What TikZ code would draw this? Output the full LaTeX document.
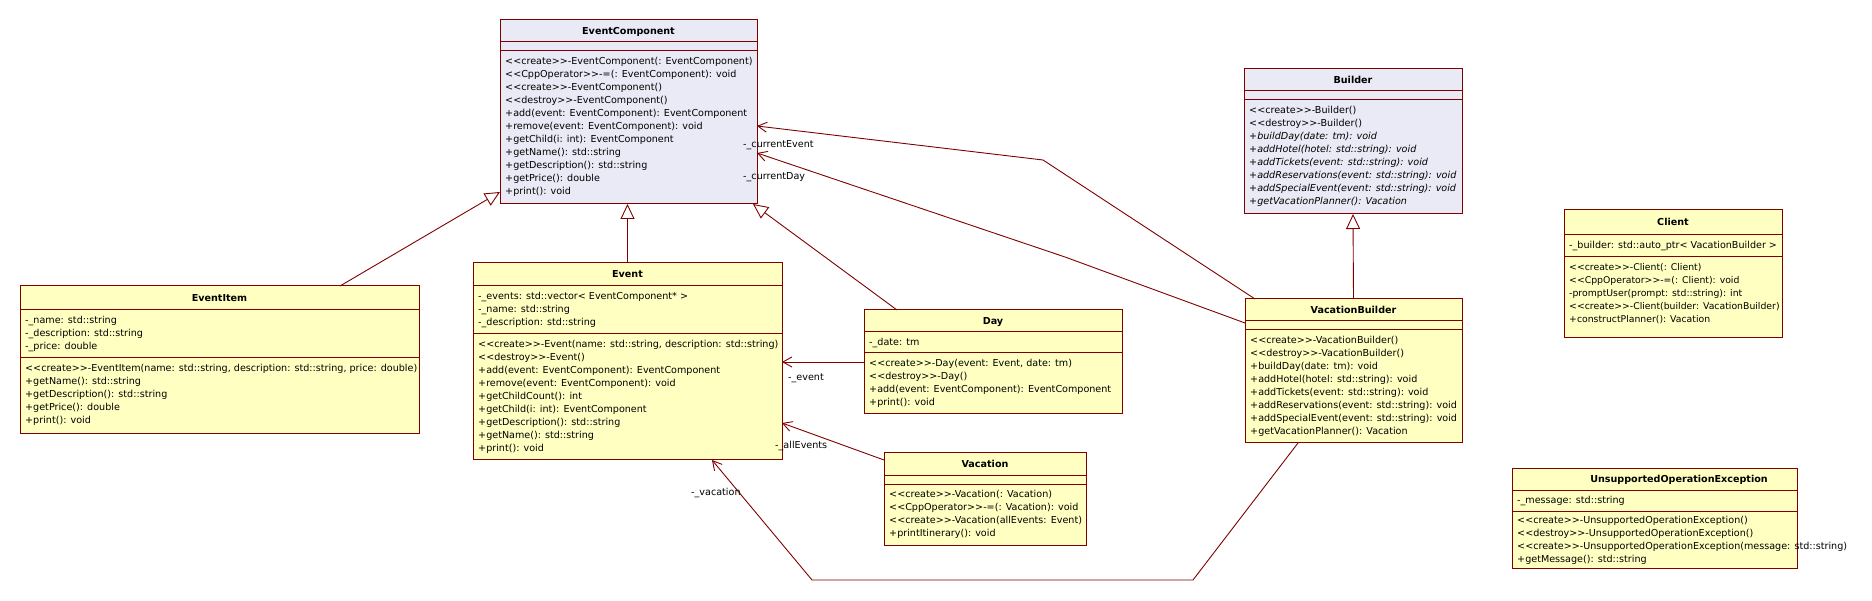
\documentclass[tikz,border=0pt]{standalone}
\usepackage{fontspec}
\setmainfont{DejaVu Sans}
\usetikzlibrary{arrows.meta}
\definecolor{umlred}{RGB}{128,0,0}
\definecolor{umlyellow}{RGB}{255,255,194}
\definecolor{umllav}{RGB}{234,234,246}
\newcommand\ssl{<\kern0pt<}
\newcommand\ssr{>\kern0pt>}
\tikzset{
  clsbox/.style={draw=umlred, line width=1pt, inner sep=0pt, outer sep=0pt},
  clsline/.style={draw=umlred, line width=1pt},
  ttl/.style={font=\fontsize{9.6}{13}\selectfont\bfseries, inner sep=0pt, anchor=base},
  rows/.style={font=\fontsize{9.6}{13}\selectfont, inner sep=0pt, anchor=base west},
  lbl/.style={font=\fontsize{9.6}{13}\selectfont, inner sep=0pt, anchor=base west},
  assoc/.style={draw=umlred, line width=0.9pt, -{Straight Barb[length=9pt,width=10pt]}},
  gen/.style={draw=umlred, line width=0.9pt, -{Triangle[length=15pt,width=14pt,fill=white]}},
}
% name, L, T, R, B, t1, t2, fill
\newcommand\umlbox[8]{%
  \node[clsbox, fill=#8, minimum width={#4pt-#2pt}, minimum height={#5pt-#3pt}, anchor=north west] (#1) at (#2,#3) {};
  \draw[clsline] (#2,#6) -- (#4,#6);
  \draw[clsline] (#2,#7) -- (#4,#7);
}
\newcommand\umlrows[4]{\node[rows] (#1) at (#2,#3) {\begin{tabular}[t]{@{}l@{}}#4\end{tabular}};}
\begin{document}
\begin{tikzpicture}[x=1pt,y=-1pt]
\useasboundingbox[fill=white] (0,0) rectangle (1872,601);

% EventComponent
\umlbox{ec}{500}{20}{757}{204}{42}{51}{umllav}
\node[ttl] (ec-title) at (628.5,34.5) {EventComponent};
\umlrows{ec-ops}{505}{64.5}{%
\ssl create\ssr-EventComponent(: EventComponent)\\
\ssl CppOperator\ssr-=(: EventComponent): void\\
\ssl create\ssr-EventComponent()\\
\ssl destroy\ssr-EventComponent()\\
+add(event: EventComponent): EventComponent\\
+remove(event: EventComponent): void\\
+getChild(i: int): EventComponent\\
+getName(): std::string\\
+getDescription(): std::string\\
+getPrice(): double\\
+print(): void}

% Builder
\umlbox{builder}{1244}{69}{1462}{214}{91}{100}{umllav}
\node[ttl] (builder-title) at (1353,83.5) {Builder};
\umlrows{builder-ops}{1249}{113.5}{%
\ssl create\ssr-Builder()\\
\ssl destroy\ssr-Builder()\\
\textit{+buildDay(date: tm): void}\\
\textit{+addHotel(hotel: std::string): void}\\
\textit{+addTickets(event: std::string): void}\\
\textit{+addReservations(event: std::string): void}\\
\textit{+addSpecialEvent(event: std::string): void}\\
\textit{+getVacationPlanner(): Vacation}}

% EventItem
\umlbox{item}{20}{286}{419}{434}{310}{358}{umlyellow}
\node[ttl] (item-title) at (219.5,301.5) {EventItem};
\umlrows{item-attrs}{25}{323.5}{%
-\_name: std::string\\
-\_description: std::string\\
-\_price: double}
\umlrows{item-ops}{25}{371.5}{%
\ssl create\ssr-EventItem(name: std::string, description: std::string, price: double)\\
+getName(): std::string\\
+getDescription(): std::string\\
+getPrice(): double\\
+print(): void}

% Event
\umlbox{event}{473}{263}{782}{460}{286}{334}{umlyellow}
\node[ttl] (event-title) at (627.5,278) {Event};
\umlrows{event-attrs}{478}{299.5}{%
-\_events: std::vector< EventComponent* >\\
-\_name: std::string\\
-\_description: std::string}
\umlrows{event-ops}{478}{347.5}{%
\ssl create\ssr-Event(name: std::string, description: std::string)\\
\ssl destroy\ssr-Event()\\
+add(event: EventComponent): EventComponent\\
+remove(event: EventComponent): void\\
+getChildCount(): int\\
+getChild(i: int): EventComponent\\
+getDescription(): std::string\\
+getName(): std::string\\
+print(): void}

% Day
\umlbox{day}{864}{310}{1122}{414}{332}{353}{umlyellow}
\node[ttl] (day-title) at (993,324.5) {Day};
\umlrows{day-attrs}{869}{345.5}{-\_date: tm}
\umlrows{day-ops}{869}{366.5}{%
\ssl create\ssr-Day(event: Event, date: tm)\\
\ssl destroy\ssr-Day()\\
+add(event: EventComponent): EventComponent\\
+print(): void}

% Vacation
\umlbox{vac}{884}{453}{1086}{545}{475}{484}{umlyellow}
\node[ttl] (vac-title) at (985,467.5) {Vacation};
\umlrows{vac-ops}{889}{497.5}{%
\ssl create\ssr-Vacation(: Vacation)\\
\ssl CppOperator\ssr-=(: Vacation): void\\
\ssl create\ssr-Vacation(allEvents: Event)\\
+printItinerary(): void}

% VacationBuilder
\umlbox{vb}{1245}{299}{1462}{443}{321}{330}{umlyellow}
\node[ttl] (vb-title) at (1353.5,313.5) {VacationBuilder};
\umlrows{vb-ops}{1250}{343.5}{%
\ssl create\ssr-VacationBuilder()\\
\ssl destroy\ssr-VacationBuilder()\\
+buildDay(date: tm): void\\
+addHotel(hotel: std::string): void\\
+addTickets(event: std::string): void\\
+addReservations(event: std::string): void\\
+addSpecialEvent(event: std::string): void\\
+getVacationPlanner(): Vacation}

% Client
\umlbox{client}{1564}{210}{1782}{338}{235}{257}{umlyellow}
\node[ttl] (client-title) at (1673,226) {Client};
\umlrows{client-attrs}{1569}{248.5}{-\_builder: std::auto\_ptr< VacationBuilder >}
\node[rows, font=\fontsize{9.3}{13}\selectfont] (client-ops) at (1569,271) {\begin{tabular}[t]{@{}l@{}}%
\ssl create\ssr-Client(: Client)\\
\ssl CppOperator\ssr-=(: Client): void\\
-promptUser(prompt: std::string): int\\
\ssl create\ssr-Client(builder: VacationBuilder)\\
+constructPlanner(): Vacation\end{tabular}};

% UnsupportedOperationException
\umlbox{uoe}{1512}{468}{1797}{568}{490}{511}{umlyellow}
\node[ttl] (uoe-title) at (1679,482.5) {UnsupportedOperationException};
\umlrows{uoe-attrs}{1517}{503.5}{-\_message: std::string}
\umlrows{uoe-ops}{1517}{523.5}{%
\ssl create\ssr-UnsupportedOperationException()\\
\ssl destroy\ssr-UnsupportedOperationException()\\
\ssl create\ssr-UnsupportedOperationException(message: std::string)\\
+getMessage(): std::string}

% bend points
\coordinate (ce-bend) at (1043,160);
\coordinate (cd-bend) at (1065,257);
\coordinate (va-bend1) at (1193,580);
\coordinate (va-bend2) at (812,580);

% generalizations
\draw[gen] ([xshift=320pt]item.north west) -- ([yshift=12pt]ec.south west);
\draw[gen] (event.north) -- (event.north |- ec.south);
\draw[gen] ([xshift=33pt]day.north west) -- ([xshift=-4pt]ec.south east);
\draw[gen] (vb.north) -- (builder.south);

% associations
\draw[assoc] ([xshift=10pt]vb.north west) -- (ce-bend) -- ([yshift=-106pt]ec.north east);
\node[lbl] (lbl-ce) at (743,148) {-\_currentEvent};
\draw[assoc] ([yshift=-24pt]vb.north west) -- (cd-bend) -- ([yshift=-133pt]ec.north east);
\node[lbl] (lbl-cd) at (743,179.5) {-\_currentDay};
\draw[assoc] ([yshift=-52pt]day.north west) -- ([yshift=-99pt]event.north east);
\node[lbl] (lbl-ev) at (788,380.5) {-\_event};
\draw[assoc] ([yshift=-7pt]vac.north west) -- ([yshift=-160pt]event.north east);
\node[lbl] (lbl-ae) at (775,449) {-\_allEvents};
\draw[assoc] ([xshift=53pt]vb.south west) -- (va-bend1) -- (va-bend2) -- ([xshift=239pt]event.south west);
\node[lbl] (lbl-va) at (691,495.5) {-\_vacation};
\end{tikzpicture}
\end{document}
